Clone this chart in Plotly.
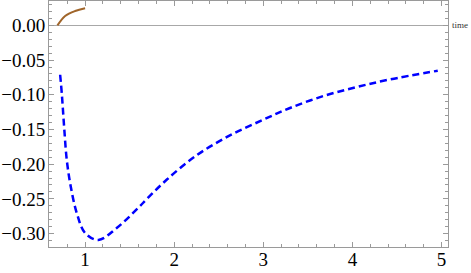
import plotly.graph_objects as go

# Blue dashed series
blue_t = [0.720, 0.739, 0.765, 0.795, 0.840, 0.907, 1.000, 1.149, 1.355, 1.608,
          1.691, 1.915, 2.251, 2.625, 2.998, 3.300, 3.670, 4.044, 4.417, 4.958]
blue_v = [-0.0711, -0.0988, -0.1467, -0.1945, -0.2328, -0.2706, -0.2993, -0.3093,
          -0.2921, -0.2615, -0.2505, -0.2225, -0.1873, -0.1586, -0.1360, -0.1190,
          -0.1020, -0.0890, -0.0780, -0.0653]

# Brown series
brown_t = [0.690, 0.776, 0.888, 1.000]
brown_v = [0.0, 0.0136, 0.0208, 0.0247]

x_ticks = [1, 2, 3, 4, 5]
y_ticks = [0.00, -0.05, -0.10, -0.15, -0.20, -0.25, -0.30]
y_tick_text = ["0.00", "\u22120.05", "\u22120.10", "\u22120.15", "\u22120.20", "\u22120.25", "\u22120.30"]

frame = "#9a9a9a"
font = "Liberation Serif, Times New Roman, serif"

fig = go.Figure()
fig.add_trace(go.Scatter(x=brown_t, y=brown_v, mode="lines",
                         line=dict(color="#a0652a", width=2, shape="spline")))
fig.add_trace(go.Scatter(x=blue_t, y=blue_v, mode="lines",
                         line=dict(color="#0000ff", width=2.5, dash="7px,4px", shape="spline")))

fig.add_annotation(text="time", xref="paper", x=1, xanchor="left", xshift=2,
                   yref="y", y=0, yanchor="middle", showarrow=False,
                   font=dict(family=font, size=9, color="#333"))

fig.update_layout(
    width=471, height=273,
    margin=dict(l=49, r=23, t=1, b=26, autoexpand=False),
    paper_bgcolor="white", plot_bgcolor="white",
    showlegend=False,
    font=dict(family=font, size=19, color="black"),
    xaxis=dict(range=[0.595, 5.073], tickvals=x_ticks, ticktext=[str(v) for v in x_ticks],
               automargin=False, ticklabelstandoff=-5,
               showgrid=False, zeroline=False, showline=True, linecolor=frame, linewidth=1,
               mirror="allticks", ticks="inside", ticklen=5, tickcolor=frame, tickwidth=1,
               minor=dict(dtick=0.2, tick0=0, ticks="inside", ticklen=3, tickcolor=frame),
               tickfont=dict(family=font, size=19)),
    yaxis=dict(range=[-0.3194, 0.0352], tickvals=y_ticks, ticktext=y_tick_text,
               automargin=False, ticklabelstandoff=-1,
               showgrid=False, zeroline=True, zerolinecolor="#a8a8a8", zerolinewidth=1,
               showline=True, linecolor=frame, linewidth=1,
               mirror="allticks", ticks="inside", ticklen=5, tickcolor=frame, tickwidth=1,
               minor=dict(dtick=0.01, tick0=0, ticks="inside", ticklen=3, tickcolor=frame),
               tickfont=dict(family=font, size=19)),
)

fig.write_html("out.html", config={"displayModeBar": False, "staticPlot": True},
               post_script="document.body.style.margin='0';document.body.style.overflow='hidden';")
